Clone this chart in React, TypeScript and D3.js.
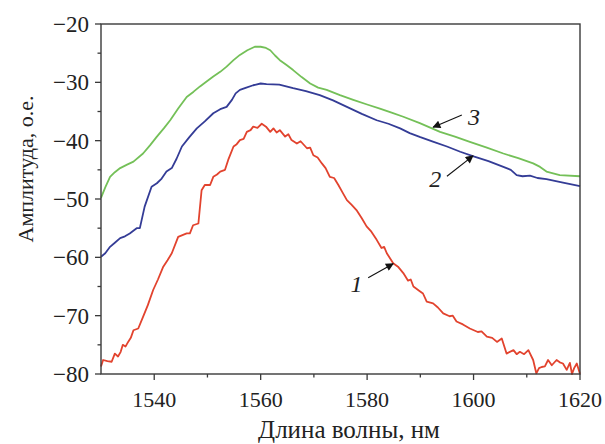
import { useEffect, useRef } from 'react';
import * as d3 from 'd3';

type Pt = [number, number];

const xMajorTicks = [1540, 1560, 1580, 1600, 1620];
const xMinorTicks = [1550, 1570, 1590, 1610];
const yMajorTicks = [-80, -70, -60, -50, -40, -30, -20];
const yMinorTicks = [-75, -65, -55, -45, -35, -25];

// curve 1 (red)
const curve1: Pt[] = [
  [1530, -78.7], [1530.4, -77.6], [1531.2, -77.8], [1532, -77.9], [1532.6, -76.5], [1533.2, -77.0],
  [1533.7, -76.2], [1534.1, -75.0], [1534.6, -75.3], [1535.1, -74.5], [1535.6, -73.8], [1536.1, -72.5],
  [1537, -72.2], [1537.9, -70.2], [1538.8, -68.2], [1539.8, -65.6], [1540.7, -63.8], [1541.7, -61.6],
  [1542.5, -60.5], [1543.3, -59.3], [1544.5, -56.5], [1545.3, -56.2], [1546.1, -55.9],
  [1546.7, -55.9], [1547.3, -54.5], [1548.3, -54.2], [1548.9, -48.5], [1549.5, -47.6],
  [1550.5, -47.6], [1551.1, -46.2], [1551.8, -45.8], [1552.4, -45.3], [1553.3, -45.0], [1553.9, -43.3],
  [1554.9, -41.0], [1555.5, -40.6], [1556.1, -39.9], [1556.8, -39.7], [1557.4, -38.5], [1558.1, -38.2],
  [1558.6, -37.6], [1559.4, -37.8], [1560.2, -37.1], [1561, -37.6],
  [1561.8, -38.5], [1562.4, -37.9], [1563, -38.6], [1563.6, -38.2], [1564.6, -39.3], [1565.2, -38.9],
  [1565.8, -39.9], [1566.8, -40.5], [1567.5, -40.1], [1568.7, -41.3], [1569.3, -41.2],
  [1569.9, -42.5], [1570.7, -42.9], [1571.5, -43.9], [1572.2, -44.7], [1573, -46.2], [1573.8, -46.4],
  [1574.6, -47.6], [1575.4, -48.9], [1576.2, -50.2], [1577.1, -51.0], [1578, -51.9], [1579, -53.3],
  [1579.9, -54.7], [1580.8, -55.6], [1581.8, -57.0], [1582.7, -58.4], [1583.2, -58.2], [1583.7, -59.3],
  [1584.9, -61.0], [1585.8, -61.6], [1586.8, -62.7], [1587.7, -64.0], [1588.2, -63.8], [1588.7, -65.0],
  [1589.9, -65.8], [1590.5, -66.2], [1591.2, -67.6], [1592.4, -67.9], [1593.3, -68.6], [1594.3, -69.6],
  [1595.5, -70.1], [1596.1, -70.0], [1596.8, -71.0], [1598, -71.5], [1599.3, -72.2], [1600.8, -72.8],
  [1601.5, -72.7], [1602.5, -73.6], [1603.5, -73.8],
  [1604.4, -74.5], [1605.3, -73.9], [1606.2, -76.5], [1607.5, -75.9], [1608.1, -76.6], [1608.7, -76.2],
  [1609.5, -76.6], [1610.3, -75.9], [1611.2, -77.6], [1611.8, -79.9], [1612.3, -79.0], [1612.8, -78.8],
  [1613.4, -78.7], [1614, -77.6], [1614.7, -78.5], [1615.6, -77.6], [1616.2, -78.0], [1616.8, -78.2],
  [1617.5, -79.3], [1618.1, -78.1], [1618.5, -80.0], [1618.9, -79.0], [1619.4, -78.2], [1620, -80.0],
];

// curve 2 (blue)
const curve2: Pt[] = [
  [1530, -59.9], [1530.8, -59.3], [1531.7, -58.2], [1532.6, -57.5], [1533.6, -56.7], [1534.5, -56.4],
  [1535.4, -55.9], [1536.7, -55.0], [1537.3, -55.0], [1538.2, -51.3], [1539.5, -47.9], [1540.5, -47.3],
  [1541.4, -46.5], [1542.3, -45.3], [1543.3, -44.7], [1544.2, -43.1], [1545.2, -41.0], [1546.6, -39.4],
  [1548, -37.9], [1549.5, -36.7], [1551.1, -35.3], [1552.4, -34.6], [1553.6, -34.2], [1554.6, -33.0],
  [1555.3, -31.9], [1556.1, -31.3], [1557.3, -30.9], [1558.6, -30.5], [1560, -30.2], [1561.1, -30.3],
  [1563.5, -30.4], [1566.1, -31.0], [1568.5, -31.5], [1571.1, -32.2], [1573.6, -33.1],
  [1576.2, -34.2], [1579, -35.4], [1581.8, -36.5], [1584, -37.1], [1586.2, -37.9], [1588, -38.7],
  [1590, -39.4], [1592.5, -40.2], [1595, -41.0], [1597.5, -41.9], [1600, -42.7], [1602.8, -43.5],
  [1605.6, -44.5], [1607, -45.0], [1608.1, -45.9], [1609.2, -46.1], [1610.6, -46.0], [1612, -46.4],
  [1613.7, -46.6], [1616.8, -47.2], [1620, -47.8],
];

// curve 3 (green)
const curve3: Pt[] = [
  [1530, -49.8], [1530.8, -48.0], [1531.7, -46.2], [1532.6, -45.4], [1533.6, -44.7], [1534.9, -44.1],
  [1536.1, -43.6], [1537.9, -42.2], [1539.2, -40.8], [1540.5, -39.3], [1541.8, -37.9], [1543, -36.5],
  [1544.5, -34.5], [1546.1, -32.5], [1547.4, -31.6], [1548.6, -30.7], [1549.9, -29.8], [1551.1, -29.0],
  [1552.4, -28.2], [1553.6, -27.3], [1554.9, -26.2], [1556.1, -25.3], [1557.5, -24.5], [1558.9, -23.9],
  [1560, -23.9], [1561, -24.1], [1561.8, -24.5], [1562.7, -25.4], [1563.6, -26.2], [1564.8, -27.0],
  [1566.1, -27.9], [1567.7, -29.1], [1569.3, -30.2], [1570.8, -30.9], [1572.4, -31.3], [1574.9, -32.2],
  [1577.4, -33.0], [1580, -33.8], [1582.4, -34.5], [1584.6, -35.2], [1586.8, -35.9], [1589.9, -37.0],
  [1593.7, -38.5], [1596.5, -39.3], [1599.3, -40.2], [1602.5, -41.2], [1605.6, -42.2], [1608.4, -43.0],
  [1611.2, -43.9], [1612.5, -44.5], [1613.7, -45.3], [1616.2, -45.9], [1620, -46.1],
];

const seriesColors = ['#e2432e', '#343c96', '#74c058'];

// label text, label position, arrow tail, arrow head (data units)
const labels = ['1', '2', '3'];
const labelPos: Pt[] = [[1578.0, -65.9], [1592.8, -47.9], [1600.1, -37.3]];
const arrowFrom: Pt[] = [[1580.2, -63.5], [1595.0, -46.1], [1597.8, -35.6]];
const arrowTo: Pt[] = [[1584.9, -61.1], [1599.9, -42.6], [1592.4, -37.7]];

export default function App() {
  const ref = useRef<SVGSVGElement>(null);

  useEffect(() => {
    const width = 605, height = 444;
    const m = { left: 101, right: 25, top: 24, bottom: 70 };
    const svg = d3.select(ref.current);
    svg.selectAll('*').remove();
    svg.attr('width', width).attr('height', height);

    const x = d3.scaleLinear().domain([1530, 1620]).range([m.left, width - m.right]);
    const y = d3.scaleLinear().domain([-80, -20]).range([height - m.bottom, m.top]);
    const font = 'Liberation Serif, Times New Roman, serif';
    const ax = '#3a3a3a';

    const curves = [curve1, curve2, curve3];
    const line = d3.line<Pt>().x(d => x(d[0])).y(d => y(d[1]));
    svg.append('g').selectAll('path')
      .data(curves)
      .join('path')
      .attr('d', d => line(d))
      .attr('fill', 'none')
      .attr('stroke', (_, i) => seriesColors[i])
      .attr('stroke-width', 1.8)
      .attr('stroke-linejoin', 'round');

    // frame
    svg.append('rect')
      .attr('x', x(1530)).attr('y', y(-20))
      .attr('width', x(1620) - x(1530)).attr('height', y(-80) - y(-20))
      .attr('fill', 'none').attr('stroke', ax).attr('stroke-width', 1.4);

    const g = svg.append('g').attr('stroke', ax).attr('stroke-width', 1.3);
    g.selectAll('.xM').data(xMajorTicks).join('line')
      .attr('x1', d => x(d)).attr('x2', d => x(d))
      .attr('y1', y(-80)).attr('y2', y(-80) + 6);
    g.selectAll('.xm').data(xMinorTicks).join('line')
      .attr('x1', d => x(d)).attr('x2', d => x(d))
      .attr('y1', y(-80)).attr('y2', y(-80) + 3.5);
    g.selectAll('.yM').data(yMajorTicks).join('line')
      .attr('x1', x(1530) - 6).attr('x2', x(1530))
      .attr('y1', d => y(d)).attr('y2', d => y(d));
    g.selectAll('.ym').data(yMinorTicks).join('line')
      .attr('x1', x(1530) - 3.5).attr('x2', x(1530))
      .attr('y1', d => y(d)).attr('y2', d => y(d));

    svg.append('g').selectAll('text').data(xMajorTicks).join('text')
      .attr('x', d => x(d)).attr('y', y(-80) + 33)
      .attr('text-anchor', 'middle')
      .attr('font-family', font).attr('font-size', 22).attr('fill', '#222')
      .text(d => d);

    svg.append('g').selectAll('text').data(yMajorTicks).join('text')
      .attr('x', x(1530) - 12).attr('y', d => y(d) + 8)
      .attr('text-anchor', 'end')
      .attr('font-family', font).attr('font-size', 23).attr('fill', '#222')
      .text(d => '\u2212' + Math.abs(d));

    svg.append('text')
      .attr('x', 349).attr('y', 438)
      .attr('text-anchor', 'middle')
      .attr('font-family', font).attr('font-size', 25).attr('fill', '#222')
      .text('Длина волны, нм');

    svg.append('text')
      .attr('transform', `translate(33,${(y(-20) + y(-80)) / 2 - 30}) rotate(-90)`)
      .attr('text-anchor', 'middle')
      .attr('font-family', font).attr('font-size', 22).attr('fill', '#222')
      .text('Амплитуда, о.е.');

    // arrow marker
    svg.append('defs').append('marker')
      .attr('id', 'ah').attr('viewBox', '0 0 10 10')
      .attr('refX', 9).attr('refY', 5)
      .attr('markerWidth', 10).attr('markerHeight', 8)
      .attr('markerUnits', 'userSpaceOnUse')
      .attr('orient', 'auto')
      .append('path').attr('d', 'M0,0 L10,5 L0,10 Z').attr('fill', '#111');

    svg.append('g').selectAll('line').data(labels).join('line')
      .attr('x1', (_, i) => x(arrowFrom[i][0])).attr('y1', (_, i) => y(arrowFrom[i][1]))
      .attr('x2', (_, i) => x(arrowTo[i][0])).attr('y2', (_, i) => y(arrowTo[i][1]))
      .attr('stroke', '#111').attr('stroke-width', 1.1)
      .attr('marker-end', 'url(#ah)');

    svg.append('g').selectAll('text').data(labels).join('text')
      .attr('x', (_, i) => x(labelPos[i][0])).attr('y', (_, i) => y(labelPos[i][1]))
      .attr('text-anchor', 'middle')
      .attr('font-family', font).attr('font-style', 'italic')
      .attr('font-size', 24).attr('fill', '#222')
      .text(d => d);
  }, []);

  return (
    <svg ref={ref} style={{ position: 'absolute', left: 0, top: 0, background: '#fff' }}></svg>
  );
}
